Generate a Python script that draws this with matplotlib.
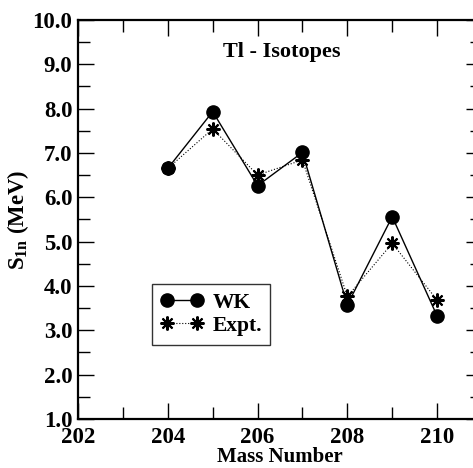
import numpy as np
import matplotlib
matplotlib.use("Agg")
import matplotlib.pyplot as plt
from matplotlib.ticker import MultipleLocator

plt.rcParams['font.family'] = ['Liberation Serif', 'DejaVu Serif']
plt.rcParams['font.weight'] = 'bold'
plt.rcParams['mathtext.fontset'] = 'custom'
plt.rcParams['mathtext.rm'] = 'Liberation Serif:bold'
plt.rcParams['mathtext.it'] = 'Liberation Serif:bold'
plt.rcParams['mathtext.bf'] = 'Liberation Serif:bold'

mass = [204, 205, 206, 207, 208, 209, 210]
wk = [6.65, 7.93, 6.26, 7.01, 3.57, 5.56, 3.32]
expt = [6.65, 7.54, 6.50, 6.84, 3.76, 4.96, 3.68]

fig = plt.figure(figsize=(4.73, 4.68), dpi=100)
ax = fig.add_axes([0.165, 0.105, 0.854, 0.8526])

ax.plot(mass, wk, c='black', lw=1.0, marker='o', ms=9.5, label='WK')
ax.plot(mass, expt, c='black', lw=0.8, ls=':', marker=(8, 2, 0), ms=10,
        mew=1.5, label='Expt.')

ax.set_xlim(202, 211)
ax.set_ylim(1.0, 10.0)
ax.xaxis.set_major_locator(MultipleLocator(2))
ax.xaxis.set_minor_locator(MultipleLocator(1))
ax.yaxis.set_major_locator(MultipleLocator(1))
ax.yaxis.set_minor_locator(MultipleLocator(0.5))
ax.yaxis.set_major_formatter(plt.FormatStrFormatter('%.1f'))
ax.tick_params(which='both', direction='in', top=True, right=True,
               labelsize=16.5, width=1.0)
ax.tick_params(which='major', length=11.5)
ax.tick_params(which='minor', length=8.5)
ax.tick_params(axis='y', which='major', pad=4)
ax.tick_params(axis='x', which='major', pad=6)
for s in ax.spines.values():
    s.set_linewidth(1.6)

ax.set_xlabel('Mass Number', fontsize=15, fontweight='bold', labelpad=-1)
ax.set_ylabel(r'S$_{1n}$ (MeV)', fontsize=16.5, fontweight='bold', labelpad=1)
ax.text(0.504, 0.92, 'Tl - Isotopes', transform=ax.transAxes, ha='center',
        va='center', fontsize=16, fontweight='bold')

leg = ax.legend(loc='upper left', bbox_to_anchor=(0.183, 0.338), numpoints=2,
                fontsize=15.5, frameon=True, fancybox=False, edgecolor='black',
                borderaxespad=0, handlelength=2.0, handletextpad=0.4,
                borderpad=0.4, labelspacing=0.15)
leg.get_frame().set_linewidth(1.0)

plt.savefig('out.png', dpi=100)
